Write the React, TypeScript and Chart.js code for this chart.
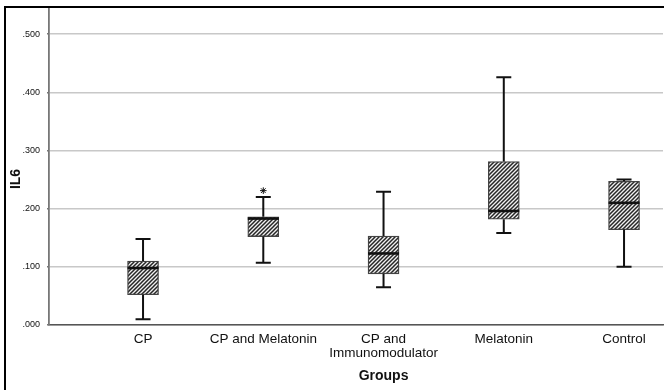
import React, { useEffect, useRef } from 'react';
import { Chart, registerables } from 'chart.js';

Chart.register(...registerables);

// ---- data ----
const groupLabels: (string | string[])[] = [
  'CP',
  'CP and Melatonin',
  ['CP and', 'Immunomodulator'],
  'Melatonin',
  'Control',
];
const groupPositions = [1, 2, 3, 4, 5];
const whiskerLow = [0.010, 0.107, 0.065, 0.158, 0.100];
const quartile1 = [0.052, 0.152, 0.088, 0.182, 0.164];
const medians = [0.098, 0.183, 0.123, 0.196, 0.210];
const quartile3 = [0.110, 0.186, 0.153, 0.281, 0.247];
const whiskerHigh = [0.148, 0.220, 0.229, 0.426, 0.250];
const outlierPositions = [2];
const outlierValues = [0.231];
const yTickValues = [0, 0.1, 0.2, 0.3, 0.4, 0.5];
const yAxisTitle = 'IL6';
const xAxisTitle = 'Groups';

const FONT = "'Liberation Sans', Arial, sans-serif";
const BOX_WIDTH = 31;
const CAP_WIDTH = 15;

function makeHatch(): CanvasPattern | string {
  const c = document.createElement('canvas');
  c.width = 4;
  c.height = 4;
  const g = c.getContext('2d');
  if (!g) return '#999';
  g.fillStyle = '#f0f0f0';
  g.fillRect(0, 0, 4, 4);
  g.strokeStyle = '#262626';
  g.lineWidth = 1.5;
  g.beginPath();
  g.moveTo(-1, 5);
  g.lineTo(5, -1);
  g.moveTo(-1, 1);
  g.lineTo(1, -1);
  g.moveTo(3, 5);
  g.lineTo(5, 3);
  g.stroke();
  return g.createPattern(c, 'repeat') || '#999';
}

const boxPartsPlugin = {
  id: 'boxParts',
  beforeDraw(chart: any) {
    const ctx = chart.ctx;
    ctx.save();
    ctx.fillStyle = '#ffffff';
    ctx.fillRect(0, 0, chart.width, chart.height);
    ctx.restore();
  },
  afterDatasetsDraw(chart: any) {
    const { ctx } = chart;
    const xs = chart.scales.x;
    const ys = chart.scales.y;
    ctx.save();
    ctx.strokeStyle = '#111111';
    groupPositions.forEach((p, i) => {
      const cx = xs.getPixelForValue(p);
      const yHi = ys.getPixelForValue(whiskerHigh[i]);
      const yLo = ys.getPixelForValue(whiskerLow[i]);
      const yQ1 = ys.getPixelForValue(quartile1[i]);
      const yQ3 = ys.getPixelForValue(quartile3[i]);
      const yMed = ys.getPixelForValue(medians[i]);
      ctx.lineWidth = 2;
      ctx.beginPath();
      ctx.moveTo(cx, yQ3);
      ctx.lineTo(cx, yHi);
      ctx.moveTo(cx - CAP_WIDTH / 2, yHi);
      ctx.lineTo(cx + CAP_WIDTH / 2, yHi);
      ctx.moveTo(cx, yQ1);
      ctx.lineTo(cx, yLo);
      ctx.moveTo(cx - CAP_WIDTH / 2, yLo);
      ctx.lineTo(cx + CAP_WIDTH / 2, yLo);
      ctx.stroke();
      ctx.beginPath();
      ctx.lineWidth = 2.6;
      ctx.moveTo(cx - BOX_WIDTH / 2, yMed);
      ctx.lineTo(cx + BOX_WIDTH / 2, yMed);
      ctx.stroke();
    });
    ctx.restore();
  },
  afterDraw(chart: any) {
    const { ctx } = chart;
    const xs = chart.scales.x;
    ctx.save();
    ctx.fillStyle = '#000000';
    ctx.fillRect(4, 6, 2, chart.height - 6);
    ctx.fillRect(4, 6, chart.width - 4, 2);
    ctx.fillStyle = '#111111';
    ctx.font = `bold 14px ${FONT}`;
    ctx.textAlign = 'center';
    ctx.textBaseline = 'middle';
    ctx.fillText(xAxisTitle, xs.getPixelForValue(3), 376);
    ctx.translate(16, 179);
    ctx.rotate(-Math.PI / 2);
    ctx.fillText(yAxisTitle, 0, 0);
    ctx.restore();
  },
};

export default function App() {
  const canvasRef = useRef<HTMLCanvasElement | null>(null);

  useEffect(() => {
    if (!canvasRef.current) return;
    const hatch = makeHatch();
    const chart = new Chart(canvasRef.current, {
      type: 'bar',
      data: {
        datasets: [
          {
            type: 'bar',
            data: groupPositions.map((p, i) => ({ x: p, y: [quartile1[i], quartile3[i]] })) as any,
            backgroundColor: hatch as any,
            borderColor: '#444444',
            borderWidth: 1.3,
            borderSkipped: false,
            barThickness: BOX_WIDTH,
          },
          {
            type: 'scatter',
            data: outlierPositions.map((p, i) => ({ x: p, y: outlierValues[i] })) as any,
            pointStyle: 'star',
            radius: 3.3,
            borderColor: '#111111',
            backgroundColor: '#111111',
            borderWidth: 1,
          } as any,
        ],
      },
      options: {
        animation: false,
        responsive: false,
        events: [],
        layout: { autoPadding: false, padding: { left: 5, top: 8, right: 1, bottom: 0 } },
        plugins: { legend: { display: false }, tooltip: { enabled: false } },
        scales: {
          x: {
            type: 'linear',
            min: 0.218,
            max: 5.324,
            offset: false,
            grid: { display: false, drawTicks: false, offset: false },
            border: { display: true, color: '#555555', width: 1.5 },
            afterBuildTicks: (scale: any) => {
              scale.ticks = groupPositions.map((v) => ({ value: v }));
            },
            afterFit: (scale: any) => {
              scale.height = 65;
              scale.paddingLeft = 0;
              scale.paddingRight = 0;
            },
            ticks: {
              autoSkip: false,
              maxRotation: 0,
              minRotation: 0,
              padding: 7.5,
              color: '#111111',
              font: { family: FONT, size: 13.5, lineHeight: 1.05 },
              callback: (v: any) => {
                const idx = groupPositions.indexOf(Number(v));
                return idx >= 0 ? groupLabels[idx] : '';
              },
            },
          },
          y: {
            type: 'linear',
            min: 0,
            max: 0.545,
            grid: { color: '#c8c8c8', lineWidth: 1.6, tickLength: 2, tickColor: '#777777' },
            border: { display: true, color: '#777777', width: 1.8 },
            afterBuildTicks: (scale: any) => {
              scale.ticks = yTickValues.map((v) => ({ value: v }));
            },
            afterFit: (scale: any) => {
              scale.width = 44;
              scale.paddingTop = 0;
              scale.paddingBottom = 0;
            },
            ticks: {
              padding: 7,
              color: '#111111',
              font: { family: FONT, size: 9 },
              callback: (v: any) => Number(v).toFixed(3).replace(/^0/, ''),
            },
          },
        },
      },
      plugins: [boxPartsPlugin],
    } as any);
    return () => chart.destroy();
  }, []);

  return (
    <div style={{ position: 'absolute', left: 0, top: 0, width: 664, height: 390 }}>
      <canvas ref={canvasRef} width={664} height={390} style={{ display: 'block' }} />
    </div>
  );
}
